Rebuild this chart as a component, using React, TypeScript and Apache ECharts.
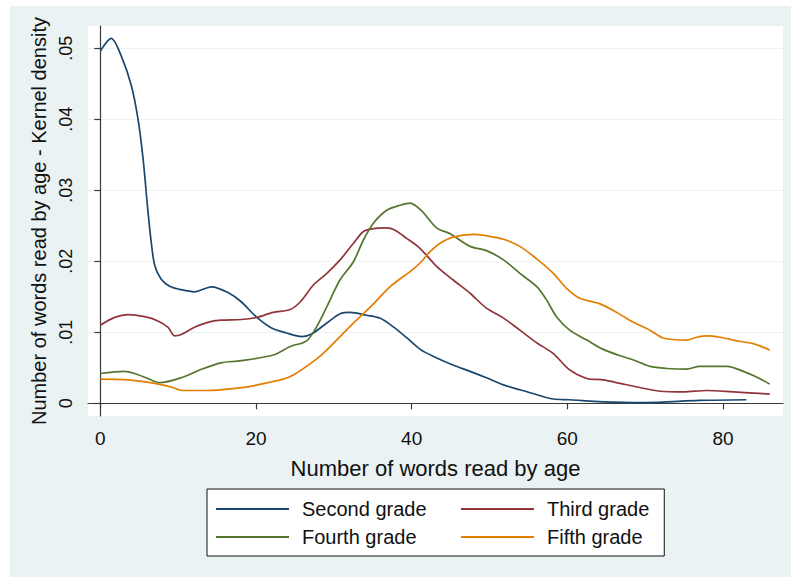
import React, { useEffect, useRef } from "react";
import * as echarts from "echarts";

const seriesNames = ["Second grade", "Third grade", "Fourth grade", "Fifth grade"];
const seriesColors = ["#1a476f", "#90353b", "#55752f", "#e37e00"];

const xTicks = [0, 20, 40, 60, 80];
const yTicks = [0, 0.01, 0.02, 0.03, 0.04, 0.05];

const secondGrade = [
  [0, 0.0496], [1.4, 0.0514], [2.7, 0.0489], [4, 0.0447], [4.85, 0.04], [5.5, 0.0344],
  [6.1, 0.0273], [6.55, 0.0226], [7.0, 0.0194], [7.8, 0.0175], [8.9, 0.0165], [10.4, 0.016],
  [12.1, 0.0157], [14.3, 0.0164], [16.4, 0.0156], [18.1, 0.0143], [20, 0.0122], [22, 0.0106],
  [23.9, 0.0099], [25.9, 0.0094], [27.2, 0.0098], [29.1, 0.0113], [30.8, 0.0126], [32.1, 0.0128],
  [34.2, 0.0124], [35.9, 0.012], [37.6, 0.0108], [39.4, 0.0092], [41.1, 0.0076], [42.8, 0.0066],
  [45.3, 0.0054], [47.5, 0.0045], [49.6, 0.0036], [51.8, 0.0026], [53.9, 0.0019], [56.1, 0.0012],
  [58.2, 0.0006], [60.3, 0.0005], [64.5, 0.0002], [70, 0.0001], [77, 0.0004], [83, 0.0005],
];

const thirdGrade = [
  [0, 0.011], [1.85, 0.0121], [3.55, 0.0125], [5.7, 0.0122], [7.4, 0.0116], [8.7, 0.0107],
  [9.55, 0.0095], [10.4, 0.0097], [12.1, 0.0107], [13.8, 0.0114], [15.5, 0.0117], [18.1, 0.0118],
  [20.1, 0.0121], [22.2, 0.0128], [24.4, 0.0132], [25.7, 0.0143], [27.4, 0.0167], [29.1, 0.0183],
  [30.8, 0.0202], [32.5, 0.0225], [33.8, 0.0242], [35.1, 0.0246], [36.4, 0.0247], [37.6, 0.0245],
  [39.4, 0.0232], [41.1, 0.0218], [43.2, 0.0193], [45.3, 0.0174], [47.5, 0.0155], [49.6, 0.0134],
  [51.8, 0.012], [53.9, 0.0103], [56.1, 0.0085], [58.2, 0.007], [60.3, 0.0047], [62.5, 0.0035],
  [64.6, 0.0033], [66.8, 0.0028], [68.5, 0.0024], [71.9, 0.0017], [74.9, 0.0016], [77.9, 0.0018],
  [81.3, 0.0016], [86, 0.0013],
];

const fourthGrade = [
  [0, 0.0042], [3.1, 0.0045], [4.4, 0.0042], [6.1, 0.0035], [7.6, 0.0029], [10.4, 0.0036],
  [13, 0.0048], [15.5, 0.0057], [18.1, 0.006], [22.2, 0.0068], [24.4, 0.008], [26.5, 0.0088],
  [27.8, 0.0108], [29.1, 0.0136], [30.8, 0.0174], [32.5, 0.0199], [33.8, 0.023], [35.1, 0.0254],
  [36.8, 0.0272], [38.5, 0.0279], [39.8, 0.0282], [41.2, 0.0272], [43.2, 0.0247], [44.9, 0.0239],
  [47.5, 0.0221], [49.6, 0.0215], [51.8, 0.0202], [53.9, 0.0183], [56.1, 0.0164], [57.3, 0.0146],
  [58.6, 0.0122], [60.3, 0.0103], [62.5, 0.0089], [64.4, 0.0077], [66.5, 0.0068], [68.5, 0.0061],
  [70.6, 0.0052], [72.8, 0.0049], [75.3, 0.0048], [77, 0.0052], [80.5, 0.0052], [82.6, 0.0045],
  [84.3, 0.0037], [86, 0.0027],
];

const fifthGrade = [
  [0, 0.0034], [3.55, 0.0033], [7, 0.0028], [9.1, 0.0023], [10.6, 0.0018], [13.8, 0.0018],
  [17.3, 0.0021], [19.8, 0.0025], [21.5, 0.0029], [23.5, 0.0034], [24.8, 0.004], [26.5, 0.0052],
  [28.6, 0.007], [30.8, 0.0094], [32.9, 0.0117], [35.1, 0.014], [37.2, 0.0164], [40.2, 0.0189],
  [41.2, 0.0199], [42.4, 0.0214], [43.6, 0.0225], [45.3, 0.0234], [47.9, 0.0238], [49.6, 0.0236],
  [51.8, 0.0231], [53.9, 0.0221], [56.1, 0.0203], [58.2, 0.0183], [59.9, 0.0162], [61.6, 0.0148],
  [64.2, 0.014], [66.5, 0.0127], [68.5, 0.0114], [70.6, 0.0103], [72.3, 0.0092], [75.3, 0.0089],
  [76.6, 0.0093], [77.9, 0.0095], [79.6, 0.0093], [82.2, 0.0087], [83.9, 0.0084], [86, 0.0075],
];

const seriesData = [secondGrade, thirdGrade, fourthGrade, fifthGrade];

const FONT = "'Liberation Sans', Arial, Helvetica, sans-serif";
const PANEL = "#EAF2F3";
const AXIS = "#3a3a3a";

export default function App() {
  const ref = useRef<HTMLDivElement>(null);

  useEffect(() => {
    if (!ref.current) return;
    const chart = echarts.init(ref.current, undefined, { renderer: "svg" });
    const option = {
      animation: false,
      backgroundColor: "#ffffff",
      textStyle: { fontFamily: FONT },
      graphic: [
        {
          type: "rect",
          z: -100,
          shape: { x: 10, y: 6, width: 781, height: 571 },
          style: { fill: PANEL },
          silent: true,
        },
      ],
      grid: {
        left: 88,
        right: 8,
        top: 26,
        bottom: 162,
        show: true,
        backgroundColor: "#ffffff",
        borderWidth: 0,
        containLabel: false,
      },
      legend: {
        data: seriesNames,
        left: 207,
        top: 489,
        orient: "horizontal",
        width: 436,
        padding: [9, 15, 8, 9],
        itemGap: 6,
        itemWidth: 73,
        itemHeight: 2,
        icon: "rect",
        backgroundColor: "#ffffff",
        borderColor: "#111111",
        borderWidth: 1,
        borderRadius: 0,
        formatter: (name: string) =>
          name === seriesNames[0] || name === seriesNames[2] ? `{a|${name}}` : `{b|${name}}`,
        textStyle: {
          fontFamily: FONT,
          fontSize: 20,
          lineHeight: 22,
          color: "#111111",
          rich: {
            a: { width: 153, height: 22, padding: [0, 0, 0, 8], fontSize: 20, lineHeight: 22, fontFamily: FONT, color: "#111111" },
            b: { height: 22, padding: [0, 0, 0, 8], fontSize: 20, lineHeight: 22, fontFamily: FONT, color: "#111111" },
          },
        },
      },
      xAxis: {
        type: "value",
        min: -1.58,
        max: 87.7,
        name: "Number of words read by age",
        nameLocation: "middle",
        nameGap: 41,
        nameTextStyle: { fontSize: 22, color: "#111111", fontFamily: FONT },
        axisLine: { show: true, lineStyle: { color: AXIS, width: 1.2 } },
        axisTick: { show: true, length: 6, customValues: xTicks, lineStyle: { color: AXIS, width: 1.2 } },
        axisLabel: { customValues: xTicks, fontSize: 19, color: "#111111", margin: 13, fontFamily: FONT },
        splitLine: { show: false },
      },
      yAxis: {
        type: "value",
        min: -0.00179,
        max: 0.05314,
        name: "Number of words read by age - Kernel density",
        nameLocation: "middle",
        nameGap: 36,
        nameTextStyle: { fontSize: 20, color: "#111111", fontFamily: FONT },
        axisLine: { show: true, lineStyle: { color: AXIS, width: 1.2 } },
        axisTick: { show: true, length: 6, customValues: yTicks, lineStyle: { color: AXIS, width: 1.2 } },
        axisLabel: {
          customValues: yTicks,
          rotate: 90,
          fontSize: 18,
          color: "#111111",
          margin: 13,
          fontFamily: FONT,
          formatter: (v: number) => (Math.abs(v) < 1e-9 ? "0" : v.toFixed(2).replace(/^0/, "")),
        },
        splitLine: { show: true, lineStyle: { color: PANEL, width: 1.2 } },
      },
      series: seriesNames.map((name, i) => ({
        name,
        type: "line",
        data: seriesData[i],
        showSymbol: false,
        symbol: "none",
        smooth: 0.3,
        color: seriesColors[i],
        lineStyle: { color: seriesColors[i], width: 1.7 },
        z: 2 + i,
      })),
    };
    chart.setOption(option);
    return () => chart.dispose();
  }, []);

  return (
    <div
      ref={ref}
      style={{ position: "fixed", left: 0, top: 0, width: 791, height: 578 }}
    />
  );
}
